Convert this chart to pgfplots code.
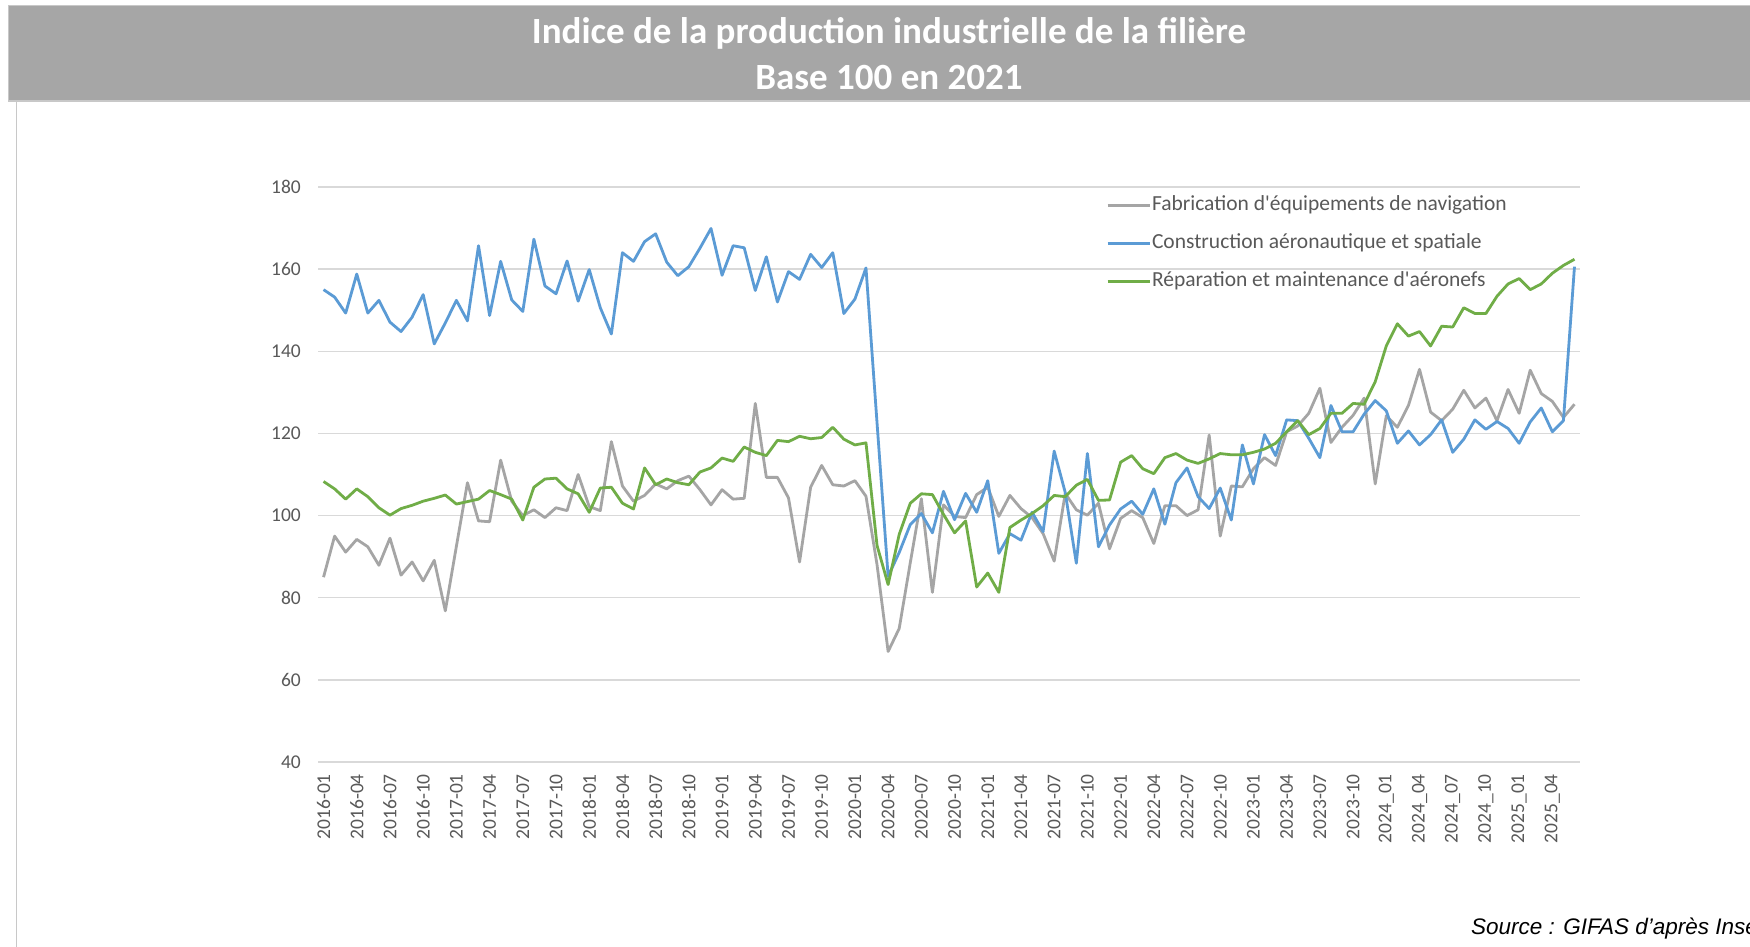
\documentclass[border=0pt]{standalone}
\usepackage{fontspec}
\setmainfont{Carlito}
\newfontfamily\arialfont{Liberation Sans}
\usepackage{pgfplots}
\usepackage{pgfplotstable}
\pgfplotsset{compat=1.18}
\definecolor{sgray}{HTML}{A5A5A5}
\definecolor{sblue}{HTML}{5B9BD5}
\definecolor{sgreen}{HTML}{70AD47}
\definecolor{txtgray}{HTML}{595959}
\definecolor{gridgray}{HTML}{D9D9D9}
\definecolor{banner}{HTML}{A6A6A6}
\definecolor{bannerborder}{HTML}{C8C8C8}

\pgfplotstableread{
i fab cons rep
0 85.0 155.0 108.3
1 95.0 153.2 106.5
2 91.1 149.3 104.0
3 94.2 158.8 106.5
4 92.4 149.3 104.6
5 87.9 152.4 101.9
6 94.5 147.1 100.1
7 85.5 144.8 101.7
8 88.7 148.3 102.5
9 84.1 153.8 103.5
10 89.1 141.8 104.2
11 76.8 146.9 105.0
12 92.5 152.4 102.8
13 108.0 147.4 103.4
14 98.7 165.7 104.0
15 98.5 148.7 106.1
16 113.5 161.9 105.1
17 103.5 152.5 104.0
18 100.0 149.7 98.9
19 101.4 167.3 106.9
20 99.5 155.9 108.9
21 101.9 154.0 109.1
22 101.2 162.0 106.5
23 110.0 152.2 105.3
24 102.2 159.9 100.8
25 101.2 150.6 106.7
26 118.0 144.2 106.9
27 107.2 164.0 103.0
28 103.5 161.9 101.6
29 104.9 166.7 111.6
30 107.7 168.6 107.5
31 106.5 161.7 108.9
32 108.5 158.4 108.0
33 109.6 160.6 107.5
34 106.3 165.1 110.6
35 102.6 169.9 111.6
36 106.3 158.5 114.0
37 104.0 165.7 113.2
38 104.2 165.2 116.7
39 127.3 154.8 115.4
40 109.3 163.0 114.6
41 109.3 152.0 118.3
42 104.3 159.4 118.0
43 88.7 157.5 119.3
44 106.9 163.6 118.7
45 112.2 160.4 119.0
46 107.5 164.0 121.5
47 107.2 149.2 118.6
48 108.5 152.7 117.2
49 104.7 160.3 117.7
50 88.0 122.5 92.7
51 66.9 85.2 83.2
52 72.5 91.0 95.4
53 88.5 97.8 103.0
54 104.1 100.5 105.3
55 81.3 95.8 105.1
56 102.6 105.9 100.3
57 99.8 99.0 95.8
58 99.5 105.4 98.7
59 105.1 100.8 82.6
60 106.9 108.5 86.0
61 99.8 90.8 81.3
62 104.9 95.6 97.1
63 101.7 94.0 98.9
64 99.5 100.8 100.5
65 95.6 96.1 102.4
66 88.9 115.7 104.9
67 105.4 105.6 104.6
68 101.4 88.4 107.4
69 100.1 115.1 108.8
70 103.0 92.4 103.7
71 91.9 97.7 103.8
72 99.3 101.6 113.0
73 101.2 103.5 114.6
74 99.5 100.3 111.4
75 93.2 106.5 110.2
76 102.4 97.9 114.1
77 102.4 108.0 115.1
78 100.0 111.6 113.5
79 101.4 104.6 112.7
80 119.6 101.7 113.8
81 95.0 106.7 115.1
82 107.2 98.9 114.8
83 107.0 117.2 114.8
84 111.4 107.7 115.4
85 114.1 119.7 116.2
86 112.2 114.6 117.6
87 120.4 123.3 120.4
88 121.8 123.1 123.1
89 124.9 118.8 119.7
90 131.0 114.1 121.2
91 117.8 126.8 124.9
92 121.5 120.4 124.9
93 124.4 120.4 127.3
94 128.6 124.7 127.1
95 107.7 128.0 132.6
96 124.3 125.5 141.3
97 121.5 117.6 146.7
98 126.8 120.6 143.7
99 135.6 117.2 144.8
100 125.2 119.7 141.3
101 123.1 123.3 146.1
102 125.9 115.4 145.9
103 130.5 118.6 150.6
104 126.2 123.3 149.2
105 128.6 121.0 149.2
106 123.1 122.9 153.4
107 130.7 121.2 156.4
108 124.9 117.6 157.7
109 135.4 122.8 155.0
110 129.7 126.2 156.4
111 127.8 120.4 159.0
112 123.9 123.1 160.9
113 127.1 160.6 162.4
}\datatable

\begin{document}
\begin{tikzpicture}[x=1pt,y=1pt]
\useasboundingbox (0,0) rectangle (1750,947);
\fill[white] (0,0) rectangle (1750,947);
% banner
\filldraw[fill=banner, draw=bannerborder, line width=1.2pt] (8.5,846) rectangle (1752,941.5);
\draw[color=bannerborder, line width=1.2pt] (16.5,0) -- (16.5,845.5);
\node[text=white, font={\fontsize{37}{44}\selectfont\bfseries}] at (889,914) {Indice de la production industrielle de la filière};
\node[text=white, font={\fontsize{37}{44}\selectfont\bfseries}] at (889,869) {Base 100 en 2021};
\node[anchor=west, font={\arialfont\itshape\fontsize{22.5}{26}\selectfont}, inner sep=0pt] at (1471,18) {Source : GIFAS d’après Insee};

\begin{axis}[
  at={(318pt,185pt)}, anchor=south west,
  scale only axis, width=1262pt, height=575pt,
  xmin=-0.5, xmax=113.5, ymin=40, ymax=180,
  ytick={40,60,...,180},
  xtick={0,3,...,111},
  xticklabels={2016-01,2016-04,2016-07,2016-10,2017-01,2017-04,2017-07,2017-10,2018-01,2018-04,2018-07,2018-10,2019-01,2019-04,2019-07,2019-10,2020-01,2020-04,2020-07,2020-10,2021-01,2021-04,2021-07,2021-10,2022-01,2022-04,2022-07,2022-10,2023-01,2023-04,2023-07,2023-10,2024\_01,2024\_04,2024\_07,2024\_10,2025\_01,2025\_04},
  ymajorgrids, grid style={color=gridgray, line width=1.3pt},
  axis line style={draw=none}, major tick style={draw=none},
  /pgf/number format/assume math mode=true,
  x tick label style={rotate=90, anchor=east, font={\fontsize{19.5}{22}\selectfont}, text=txtgray, inner xsep=12pt},
  y tick label style={font={\fontsize{19.5}{22}\selectfont}, text=txtgray, inner xsep=0pt, xshift=-17pt},
  legend cell align=left,
  legend style={at={(0.6244,0.984)}, anchor=north west, draw=none, fill=none, inner sep=0pt,
    font={\fontsize{21.5}{25}\selectfont}, text=txtgray, row sep=20pt,
    nodes={inner sep=0pt, text height=14pt, text depth=4pt},
    /tikz/every odd column/.append style={column sep=1pt}},
  legend image code/.code={\draw[#1, line width=2.8pt] (0pt,0pt) -- (42pt,0pt);},
  every axis plot/.append style={line width=2.8pt, line join=round, mark=none},
]
\addplot[sgray] table[x=i, y=fab] {\datatable};
\addlegendentry{Fabrication d\textquotesingle équipements de navigation}
\addplot[sblue] table[x=i, y=cons] {\datatable};
\addlegendentry{Construction aéronautique et spatiale}
\addplot[sgreen] table[x=i, y=rep] {\datatable};
\addlegendentry{Réparation et maintenance d\textquotesingle aéronefs}
\end{axis}
\end{tikzpicture}
\end{document}
